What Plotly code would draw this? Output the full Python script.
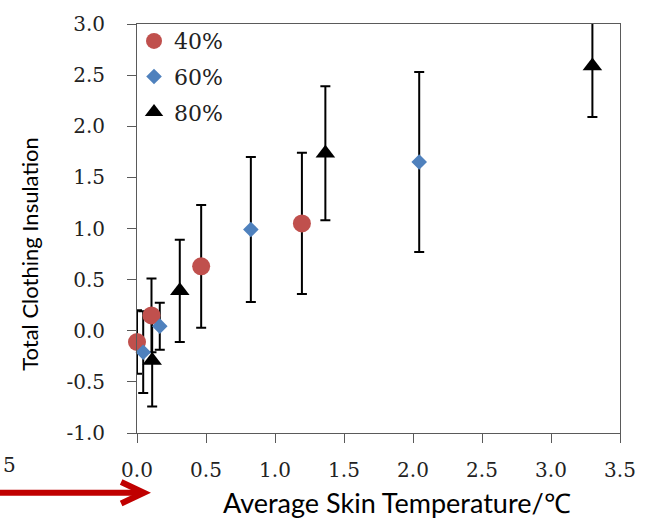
import plotly.graph_objects as go

# Clothing insulation vs. average skin temperature at three humidity levels
rh_labels = ["40%", "60%", "80%"]

rh40_x = [0.00, 0.105, 0.465, 1.195]
rh40_y = [-0.11, 0.15, 0.63, 1.05]
rh40_err = [0.31, 0.36, 0.60, 0.69]

rh60_x = [0.045, 0.165, 0.825, 2.045]
rh60_y = [-0.21, 0.045, 0.99, 1.65]
rh60_err = [0.40, 0.23, 0.71, 0.88]

rh80_x = [0.11, 0.31, 1.365, 3.30]
rh80_y = [-0.29, 0.39, 1.735, 2.59]
rh80_err = [0.45, 0.50, 0.655, 0.50]

x_tick_vals = [0.0, 0.5, 1.0, 1.5, 2.0, 2.5, 3.0, 3.5]
x_tick_text = ["0.0", "0.5", "1.0", "1.5", "2.0", "2.5", "3.0", "3.5"]
y_tick_vals = [-1.0, -0.5, 0.0, 0.5, 1.0, 1.5, 2.0, 2.5, 3.0]
y_tick_text = ["-1.0", "-0.5", "0.0", "0.5", "1.0", "1.5", "2.0", "2.5", "3.0"]

W, H = 648, 523
ML, MR, MT, MB = 137, 24, 15, 90
PW, PH = W - ML - MR, H - MT - MB


def px(xp):
    return (xp - ML) / PW


def py(yp):
    return (H - MB - yp) / PH


series = [
    (rh_labels[0], rh40_x, rh40_y, rh40_err, "circle", 18, "#C0504D"),
    (rh_labels[1], rh60_x, rh60_y, rh60_err, "diamond", 12, "#4F81BD"),
    (rh_labels[2], rh80_x, rh80_y, rh80_err, "triangle-up", 17, "#000000"),
]

fig = go.Figure()

# error bars first so that every marker sits on top of them
for name, xs, ys, es, sym, size, col in series:
    fig.add_trace(go.Scatter(
        x=xs, y=ys, mode="markers", showlegend=False, hoverinfo="skip",
        marker=dict(size=1, opacity=0),
        error_y=dict(type="data", array=es, visible=True,
                     color="#000000", thickness=2, width=5),
    ))

for i, (name, xs, ys, es, sym, size, col) in enumerate(series):
    fig.add_trace(go.Scatter(
        x=xs, y=ys, mode="markers", name=name, legendgroup=f"g{i}",
        cliponaxis=False,
        marker=dict(symbol=sym, size=size, color=col, line=dict(width=0)),
    ))

serif = "DejaVu Serif"
sans = "Lato"
tick_font = dict(family=serif, size=20, color="#222222")
axis_common = dict(
    showline=True, linecolor="#5a5a5a", linewidth=1, mirror=True,
    ticks="outside", ticklen=9, tickwidth=1, tickcolor="#5a5a5a",
    showgrid=False, zeroline=False,
)

fig.update_xaxes(range=[0, 3.5], tickvals=x_tick_vals, ticktext=x_tick_text,
                 tickfont=tick_font, ticklabelstandoff=10, **axis_common)
fig.update_yaxes(range=[-1, 3], tickvals=y_tick_vals, ticktext=y_tick_text,
                 tickfont=tick_font, ticklabelstandoff=18, **axis_common)

fig.update_layout(
    width=W, height=H,
    margin=dict(l=ML, r=MR, t=MT, b=MB, pad=0),
    paper_bgcolor="white", plot_bgcolor="white",
    font=dict(family=serif, size=20, color="#222222"),
    showlegend=True,
    legend=dict(
        x=px(134), y=py(11), xanchor="left", yanchor="top",
        font=dict(family=serif, size=22, color="#222222"),
        bgcolor="rgba(0,0,0,0)", borderwidth=0,
        tracegroupgap=4, itemwidth=30,
    ),
    annotations=[
        dict(text="Total Clothing Insulation", textangle=-90,
             x=px(29), y=py(250), xref="paper", yref="paper",
             xanchor="center", yanchor="middle", showarrow=False,
             font=dict(family=sans, size=22, color="#000000")),
        dict(text="Average Skin Temperature/℃",
             x=px(399), y=py(504), xref="paper", yref="paper",
             xanchor="center", yanchor="middle", showarrow=False,
             font=dict(family=sans, size=27, color="#000000")),
        dict(text="5", x=px(0), y=py(466), xref="paper", yref="paper",
             xanchor="left", yanchor="middle", showarrow=False,
             font=dict(family=serif, size=20, color="#222222")),
    ],
    shapes=[
        dict(type="line", xref="paper", yref="paper",
             x0=px(-2), y0=py(494), x1=px(141), y1=py(494),
             line=dict(color="#C00000", width=6)),
        dict(type="path", xref="paper", yref="paper",
             path=f"M {px(121)},{py(483)} L {px(144)},{py(494)} L {px(121)},{py(505)}",
             line=dict(color="#C00000", width=6)),
    ],
)

fig.write_html("out.html")
